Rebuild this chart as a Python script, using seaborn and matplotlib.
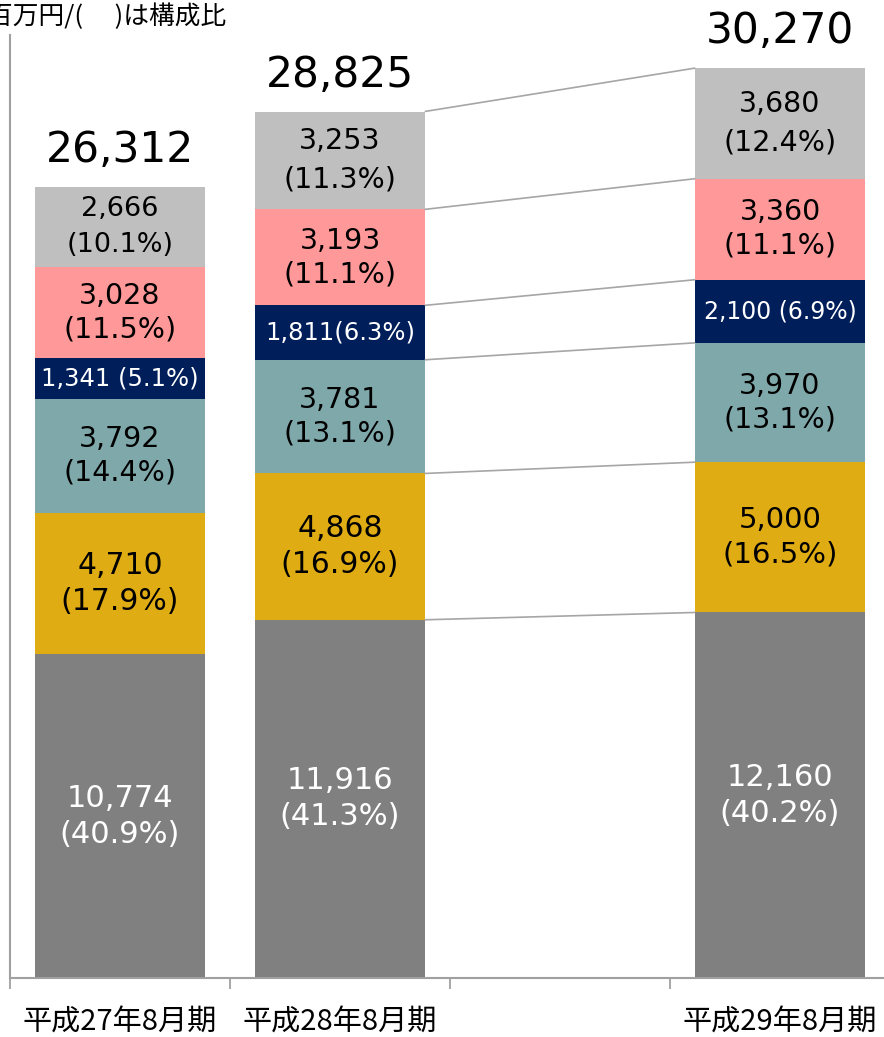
import matplotlib
matplotlib.use("Agg")
import matplotlib.pyplot as plt
import seaborn as sns
import pandas as pd
import numpy as np

# ---- data ----
periods = ["平成27年8月期", "平成28年8月期", "平成29年8月期"]
order = ["平成27年8月期", "平成28年8月期", "_gap", "平成29年8月期"]
s1 = [10774, 11916, 12160]
s2 = [4710, 4868, 5000]
s3 = [3792, 3781, 3970]
s4 = [1341, 1811, 2100]
s5 = [3028, 3193, 3360]
s6 = [2666, 3253, 3680]
totals = [26312, 28825, 30270]
total_labels = ["26,312", "28,825", "30,270"]
labels1 = ["10,774\n(40.9%)", "11,916\n(41.3%)", "12,160\n(40.2%)"]
labels2 = ["4,710\n(17.9%)", "4,868\n(16.9%)", "5,000\n(16.5%)"]
labels3 = ["3,792\n(14.4%)", "3,781\n(13.1%)", "3,970\n(13.1%)"]
labels4 = ["1,341 (5.1%)", "1,811(6.3%)", "2,100 (6.9%)"]
labels5 = ["3,028\n(11.5%)", "3,193\n(11.1%)", "3,360\n(11.1%)"]
labels6 = ["2,666\n(10.1%)", "3,253\n(11.3%)", "3,680\n(12.4%)"]
unit_text = "百万円/(　 )は構成比"

colors = ["#808080", "#E0AC14", "#7FA8AB", "#001E5A", "#FF9999", "#BFBFBF"]
text_colors = ["white", "black", "black", "white", "black", "black"]
font_sizes = [[22, 22, 22], [21.5, 21.5, 21], [20.5, 20.5, 20.5], [17.5, 17.5, 17],
              [20.5, 20.5, 20.5], [19.5, 20.5, 20.5]]
line_sp = [1.3, 1.3, 1.25, 1.2, 1.25, 1.5]

sns.set_style("white")
plt.rcParams["font.family"] = ["DejaVu Sans", "Noto Sans CJK JP"]

segs = [s1, s2, s3, s4, s5, s6]
seg_labels = [labels1, labels2, labels3, labels4, labels5, labels6]
cum = np.cumsum(np.array(segs), axis=0)  # shape (6, 3)

df = pd.DataFrame({"period": periods})
for i in range(6):
    df[f"c{i}"] = cum[i]

fig = plt.figure(figsize=(8.84, 10.37), dpi=100)
ax = fig.add_axes([10 / 884, 59 / 1037, 880 / 884, (978 - 35) / 1037])

W = 0.77
for i in range(5, -1, -1):
    sns.barplot(data=df, x="period", y=f"c{i}", order=order, color=colors[i],
                width=W, saturation=1, linewidth=0, ax=ax)

ax.set_xlim(-0.5, 3.5)
ax.set_ylim(0, 31370)
xpos = {p: order.index(p) for p in periods}

# segment labels
for i in range(6):
    for j, p in enumerate(periods):
        bottom = cum[i][j] - segs[i][j]
        ax.text(xpos[p], bottom + segs[i][j] / 2, seg_labels[i][j],
                ha="center", va="center", multialignment="center",
                color=text_colors[i], fontsize=font_sizes[i][j], linespacing=line_sp[i])

# totals
for j, p in enumerate(periods):
    ax.annotate(total_labels[j], (xpos[p], totals[j]), xytext=(0, 18),
                textcoords="offset points", ha="center", va="baseline",
                fontsize=30.5, color="black")

# connector lines between bar 2 and bar 3
xa = xpos[periods[1]] + W / 2
xb = xpos[periods[2]] - W / 2
for i in range(6):
    ya = cum[i][1] if i < 5 else totals[1]
    yb = cum[i][2] if i < 5 else totals[2]
    ax.plot([xa, xb], [ya, yb], color="#A6A6A6", lw=1.2, solid_capstyle="butt")

# axes styling
ax.set_xlabel("")
ax.set_ylabel("")
ax.set_yticks([])
ax.set_xticks([0, 1, 3], labels=periods)
ax.set_xticks([-0.5, 0.5, 1.5, 2.5, 3.5], minor=True)
ax.tick_params(axis="x", which="major", length=0, pad=21, labelsize=21,
               labelcolor="black")
ax.tick_params(axis="x", which="minor", length=8, width=1.3, color="#A0A0A0",
               direction="out", bottom=True)
for lab in ax.get_xticklabels():
    lab.set_fontfamily(["Noto Sans CJK JP", "DejaVu Sans"])
for s in ["top", "right"]:
    ax.spines[s].set_visible(False)
for s in ["left", "bottom"]:
    ax.spines[s].set_color("#A0A0A0")
    ax.spines[s].set_linewidth(1.5)

fig.text(226 / 884, 1 - 17 / 1037, unit_text, ha="right", va="center",
         fontsize=18.5, family=["Noto Sans CJK JP", "DejaVu Sans"], color="black")

fig.savefig("out.png", dpi=100)
